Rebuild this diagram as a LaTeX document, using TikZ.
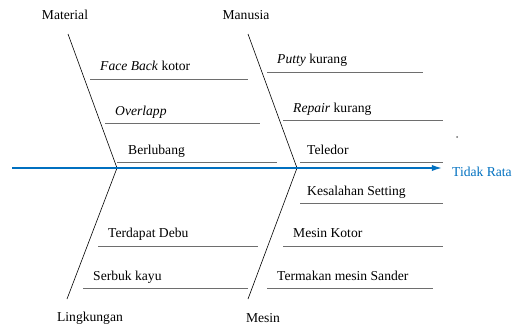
\documentclass[tikz,border=0pt]{standalone}
\usepackage{fontspec}
\setmainfont{Liberation Serif}
\usetikzlibrary{arrows.meta, positioning}
\definecolor{spineblue}{RGB}{0,112,192}
\definecolor{branchgray}{RGB}{110,110,110}

\begin{document}
\begin{tikzpicture}[
    x=1pt, y=-1pt,
    cause/.style={font=\fontsize{13.6}{16}\selectfont, anchor=base west, inner sep=0pt},
    category/.style={font=\fontsize{13.6}{16}\selectfont, inner sep=0pt},
    bone/.style={black, line width=0.6pt},
    branch/.style={draw=branchgray, line width=0.8pt},
    spine/.style={-{Latex[length=3.6mm, width=2.2mm]}, line width=1.4pt, draw=spineblue}
]
    \useasboundingbox (0,0) rectangle (518,327);

    % Nodes
    \node[category] (material) at (65,15) {Material};
    \node[category] (manusia) at (246,15) {Manusia};
    \node[category] (lingkungan) at (90,318) {Lingkungan};
    \node[category] (mesin) at (263,318) {Mesin};
    \node[category, anchor=west, text=spineblue] (effect) at (452,172) {Tidak Rata};

    \node[cause] (facebk) at (100,70) {\textit{Face Back} kotor};
    \node[cause] (overlap) at (115,115) {\textit{Overlapp}};
    \node[cause] (lubang) at (128,154) {Berlubang};
    \node[cause] (putty) at (277,63) {\textit{Putty} kurang};
    \node[cause] (repair) at (293,112) {\textit{Repair} kurang};
    \node[cause] (teledor) at (307,154) {Teledor};
    \node[cause] (setting) at (307,195) {Kesalahan Setting};
    \node[cause] (kotor) at (293,237) {Mesin Kotor};
    \node[cause] (sander) at (277,280) {Termakan mesin Sander};
    \node[cause] (debu) at (108,237) {Terdapat Debu};
    \node[cause] (serbuk) at (93,280) {Serbuk kayu};

    % Bones
    \coordinate (tail) at (12,168);
    \coordinate (tip) at (442,168);
    \coordinate (jointl) at (117,168);
    \coordinate (jointr) at (297,168);
    \coordinate (mattop) at (68,34);
    \coordinate (mantop) at (248,34);
    \coordinate (lingbot) at (67,299);
    \coordinate (mesbot) at (248,299);

    % Branch lines
    \draw[branch] (90,79) -- (248,79);
    \draw[branch] (105,123) -- (260,123);
    \draw[branch] (117,162) -- (277,162);
    \draw[branch] (267,72) -- (423,72);
    \draw[branch] (283,120) -- (443,120);
    \draw[branch] (300,162) -- (443,162);
    \draw[branch] (300,203) -- (443,203);
    \draw[branch] (283,246) -- (443,246);
    \draw[branch] (267,288) -- (433,288);
    \draw[branch] (98,246) -- (258,246);
    \draw[branch] (83,288) -- (248,288);

    \draw[bone] (mattop) -- (jointl) -- (lingbot);
    \draw[bone] (mantop) -- (jointr) -- (mesbot);
    \draw[spine] (tail) -- (tip);

    \fill[branchgray] (457,137) circle (1pt);
\end{tikzpicture}
\end{document}
